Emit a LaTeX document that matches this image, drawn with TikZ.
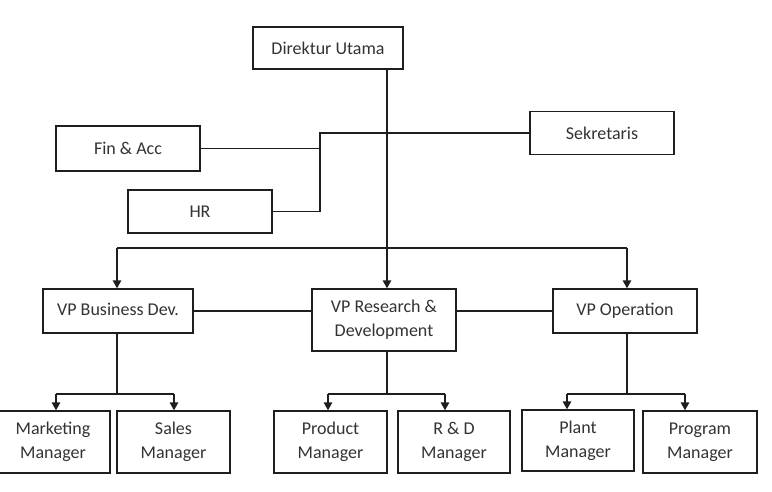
\documentclass[tikz,border=0pt]{standalone}
\usepackage{fontspec}
\setmainfont{Carlito}
\usetikzlibrary{arrows.meta,calc}
\definecolor{txt}{HTML}{333333}
\definecolor{ln}{HTML}{1E1E1E}
\begin{document}
\begin{tikzpicture}[x=1pt,y=-1pt,
  box/.style={draw=ln,line width=1.3pt,fill=white,inner sep=0pt,align=center,
    text=txt,font=\fontsize{18pt}{24pt}\selectfont},
  conn/.style={draw=ln,line width=1.4pt},
  arr/.style={conn,-{Triangle[width=8.5pt,length=8pt]}}]
\useasboundingbox (0,0) rectangle (772,492);
% nodes
\node[box,minimum width=150pt,minimum height=42pt] (dir) at (328,48) {Direktur Utama};
\node[box,minimum width=144pt,minimum height=43pt] (sek) at (602,133) {Sekretaris};
\node[box,minimum width=144pt,minimum height=45pt] (fin) at (128,148.5) {Fin \& Acc};
\node[box,minimum width=144pt,minimum height=43pt] (hr) at (200,211.5) {HR};
\node[box,minimum width=150pt,minimum height=44pt] (vpb) at (118,311) {\raisebox{3pt}{VP Business Dev.}};
\node[box,minimum width=144pt,minimum height=62pt] (vpr) at (384,320) {VP Research \&\\Development};
\node[box,minimum width=144pt,minimum height=44pt] (vpo) at (625,311) {\raisebox{3pt}{VP Operation}};
\node[box,minimum width=114pt,minimum height=62pt] (mkt) at (53,442) {Marketing\\Manager};
\node[box,minimum width=113pt,minimum height=62pt] (sal) at (173.5,442) {Sales\\Manager};
\node[box,minimum width=113pt,minimum height=62pt] (prd) at (330.5,442) {Product\\Manager};
\node[box,minimum width=112pt,minimum height=62pt] (rnd) at (454,442) {R \& D\\Manager};
\node[box,minimum width=112pt,minimum height=61pt] (plt) at (578,440.5) {Plant\\Manager};
\node[box,minimum width=114pt,minimum height=62pt] (prg) at (700,442) {Program\\Manager};
% helper coordinates
\coordinate (trunk) at (387,0);
\coordinate (spine) at (320,0);
\coordinate (bus) at (0,248);
\coordinate (lvl) at (0,394);
\coordinate (xb) at (117,0);
\coordinate (xo) at (627,0);
\coordinate (am) at (56,0);
\coordinate (as) at (174,0);
\coordinate (ap) at (328,0);
\coordinate (ar) at (445,0);
\coordinate (apl) at (567,0);
\coordinate (apg) at (685,0);
% top trunk
\draw[arr] (trunk |- dir.south) -- (trunk |- vpr.north);
% staff
\draw[conn] (sek.west) -| (hr.east -| spine) -- (hr.east);
\draw[conn] (fin.east) -- (fin.east -| spine);
% VP bus
\draw[conn] (xb |- bus) -- (xo |- bus);
\draw[arr] (xb |- bus) -- (xb |- vpb.north);
\draw[arr] (xo |- bus) -- (xo |- vpo.north);
% VP links
\draw[conn] (vpb.east) -- (vpb.east -| vpr.west);
\draw[conn] (vpo.west -| vpr.east) -- (vpo.west);
% sub trees
\draw[conn] (xb |- vpb.south) -- (xb |- lvl);
\draw[conn] (am |- lvl) -- (as |- lvl);
\draw[arr] (am |- lvl) -- (am |- mkt.north);
\draw[arr] (as |- lvl) -- (as |- sal.north);
\draw[conn] (trunk |- vpr.south) -- (trunk |- lvl);
\draw[conn] (ap |- lvl) -- (ar |- lvl);
\draw[arr] (ap |- lvl) -- (ap |- prd.north);
\draw[arr] (ar |- lvl) -- (ar |- rnd.north);
\draw[conn] (xo |- vpo.south) -- (xo |- lvl);
\draw[conn] (apl |- lvl) -- (apg |- lvl);
\draw[arr] (apl |- lvl) -- (apl |- plt.north);
\draw[arr] (apg |- lvl) -- (apg |- prg.north);
\end{tikzpicture}
\end{document}
